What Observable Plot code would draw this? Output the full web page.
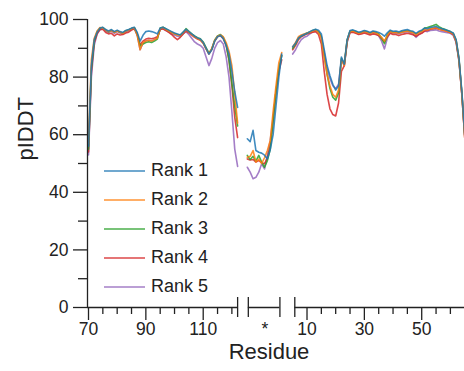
<!DOCTYPE html>
<html><head><meta charset="utf-8">
<script src="https://cdn.jsdelivr.net/npm/d3@7"></script>
<script src="https://cdn.jsdelivr.net/npm/@observablehq/plot@0.6"></script>
<style>
body{margin:0;background:#fff;font-family:"Liberation Sans",Arial,sans-serif;}
#wrap{position:relative;width:464px;height:371px;overflow:hidden;}
#legend{position:absolute;left:104px;top:156px;}
.row{display:flex;align-items:center;height:29px;font-size:18px;color:#222;}
.row svg{margin-right:6px;}
</style></head><body><div id="wrap"><div id="legend"></div></div>
<script>
const ranks = ["Rank 1", "Rank 2", "Rank 3", "Rank 4", "Rank 5"];
const colors = ["#1f77b4", "#ff7f0e", "#2ca02c", "#d62728", "#9467bd"];

// first domain: residues 70..122 ; linker "*" : 13 positions ; second domain: residues 5..65
const seg1Start = 70;
const seg3Start = 5;

const rank1Seg1 = [56,84,93,95.5,97,97.3,96.5,96,96.5,95.8,96.3,95.8,95.5,96.2,96.5,97,97.3,95.5,92.5,94.5,95.8,96,95.8,95.5,95,97,97.3,96.8,96.3,95.8,95.3,95,94.6,95.6,96.6,95.8,95,94.2,93.6,93.2,92,90,88,89.5,92.5,94,94.5,93.4,91,88,82,75,69.5];
const rank2Seg1 = [57,86,93.5,96,97.2,97,96.3,95.8,96.2,95.5,96,95.6,95.2,96,96.3,96.8,97.1,94.5,89.5,92,92.5,92.8,92.5,93,93.5,96.8,97.2,96.5,96,95.5,95,94.6,94.4,95.4,96.4,95.6,94.8,94,93.4,93,91.8,89.8,88.2,90,92.8,94.2,94.6,94,92,89,84,74,64];
const rank3Seg1 = [55,83,92.5,95.8,97,97.2,96.4,95.7,96.3,95.6,96.1,95.6,95.3,96.1,96.4,96.9,97.2,95,90.8,91.5,92,92.3,92,92.5,93.2,97,97.3,96.7,96.1,95.6,95.1,94.8,94.6,95.5,96.8,95.9,95,94.3,93.7,93.3,92.2,90.2,88.3,89.8,92.8,94.3,94.8,93.8,91.3,86,78,70,63];
const rank4Seg1 = [54,82,92,95,96.5,96.6,95.5,95,95.2,94.3,95,94.6,94.8,95.3,95.6,96.3,96.8,94.8,91.2,92.5,93.2,93.5,93.3,93.6,94,96.5,96.8,96.2,95.5,94.8,93.8,93,93.8,95,96,95.4,94.6,93.8,93.2,92.8,91.8,89.8,88,89.6,92.5,94,94.4,93.3,91,86,77,66,59];
const rank5Seg1 = [53,80,91,95,96.5,96.8,96,95.5,96,95.2,95.8,95.3,95,95.7,96,96.6,96.9,94.5,89.5,91.8,92.6,92.8,92.6,93,93.5,96.6,96.8,96.2,95.6,95,94.6,94.2,94,95,95.8,94.8,93.5,92.2,91.5,91,90,87,84,86.5,90,92,92.7,91.5,87,80,68,55,49];

const rank1Linker = [58.6,57.6,61.5,54.5,53.9,53.6,52.9,51.6,54.8,60,70,80,88];
const rank2Linker = [52.2,52.5,54.5,50.5,51.5,50,52,54.5,58,68,77,85,88.5];
const rank3Linker = [52.8,51.4,52.5,50.8,52.8,50.5,48.7,51,55,65,75,83,87.5];
const rank4Linker = [51.6,51.2,51.4,50.5,51,50.3,49.9,52,56,65,75,82,86];
const rank5Linker = [48.7,47,44.7,45.2,47,49.9,48.1,52.8,58,66,75,82,87.5];

const rank1Seg3 = [90.5,91.8,93.5,94.3,94.8,95.2,95.8,96.3,96.6,96.3,95,89.5,84,80.5,77.5,75.5,77,87,84.5,93,96.2,
  96.4,96,95.6,95.8,96.2,95.9,95.5,96,95.8,95.5,95,94.2,95.4,96.3,95.9,96,95.7,96.1,96.3,96.5,96.1,95.9,95.2,95.9,96.3,97,96.8,97.2,97.4,97.6,97.1,96.8,96.5,96.2,95.8,95.3,93,86.5,75,60];
const rank2Seg3 = [90.5,92,94,94.6,95,95.3,95.6,96,96.3,95.5,93.5,87,81,77,74,73,75.5,86,84,92.5,95.8,
  96,95.6,95.2,95.4,95.8,95.5,95.1,95.6,95.3,94.8,93.8,92.5,94.5,95.8,95.4,95.5,95.2,95.6,95.8,96,95.7,95.4,94.8,95.4,95.8,96.6,96.4,96.8,97,97.2,96.7,96.4,96.2,95.8,95.5,95,92.5,86,74,59];
const rank3Seg3 = [90,91.5,93.5,94.3,94.8,95.3,95.7,96.2,96.5,95.8,94,87.5,81,76,73,72,74.5,86.5,84.5,93,96,
  96.2,95.8,95.4,95.6,96,95.7,95.3,95.8,95.5,95,93.5,91.6,94.8,96,95.6,95.7,95.4,95.8,96,96.2,95.9,95.6,94.9,95.6,96,97,97.2,97.6,97.9,98.3,97.5,97,96.6,96.2,95.8,95.2,92.8,86.2,74.5,60];
const rank4Seg3 = [89.5,91,93,94,94.5,95,95.3,95.6,95.8,94.8,91.5,82,74,69,67,66.5,71,82,84,92.5,95.5,
  95.6,95.2,94.8,95,95.3,95,94.6,95,94.8,94.4,93.4,92.2,94,95.2,94.8,94.8,94.4,94.8,95,95.2,95,94.7,94.2,94.8,95.2,96,96.2,96.6,96.8,97,96.6,96.4,96.1,95.8,95.4,94.8,92.3,85.8,74,59];
const rank5Seg3 = [88,89.5,91.5,93,93.8,94.2,95,95.7,96,95.6,94,88.5,83,79.5,77,76,77.5,86,84,92,95.5,
  95.8,95.4,95,95.2,95.6,95.3,94.9,95.4,95.1,94.3,92.5,89.8,93.5,95.5,95.2,95.3,95,95.4,95.6,95.8,95.4,95,93.8,94.8,95.4,96,95.8,96.2,96.3,96.4,96,95.8,95.6,95.4,95.2,94.5,92,85.5,74,59.5];

// tick labels
const seg1MajorTicks = [70, 90, 110];
const seg1MinorTicks = [75, 80, 85, 95, 100, 105, 115, 120];
const seg3MajorTicks = [10, 30, 50];
const seg3MinorTicks = [15, 20, 25, 35, 40, 45, 55, 60];
const linkerLabel = "*";
const yMajorTicks = [0, 20, 40, 60, 80, 100];
const yMinorTicks = [10, 30, 50, 70, 90];

// broken-axis layout (position units)
const xDomain = [69.65, 201.12];
const seg1Axis = [69.65, 122.0];
const linkerAxis = [125.73, 136.75];
const seg3Axis = [141.94, 201.12];
const linkerOffset = 125.38;
const seg3Offset = 136.2;
const pos1 = r => r;
const pos3 = r => seg3Offset + r;

const series = [
  [ranks[0], rank1Seg1, rank1Linker, rank1Seg3],
  [ranks[1], rank2Seg1, rank2Linker, rank2Seg3],
  [ranks[2], rank3Seg1, rank3Linker, rank3Seg3],
  [ranks[3], rank4Seg1, rank4Linker, rank4Seg3],
  [ranks[4], rank5Seg1, rank5Linker, rank5Seg3]
];
const rows = [];
for (const [rank, s1, l, s3] of series.slice().reverse()) {
  s1.forEach((v, i) => rows.push({rank, key: rank + "a", u: pos1(seg1Start + i), v}));
  l.forEach((v, i) => rows.push({rank, key: rank + "b", u: linkerOffset + i, v}));
  s3.forEach((v, i) => rows.push({rank, key: rank + "c", u: pos3(seg3Start + i), v}));
}

const axisSegs = [seg1Axis, linkerAxis, seg3Axis];
const breaks = [seg1Axis[1], linkerAxis[0], linkerAxis[1], seg3Axis[0]];
const majorU = [...seg1MajorTicks.map(pos1), ...seg3MajorTicks.map(pos3)];
const minorU = [...seg1MinorTicks.map(pos1), ...seg3MinorTicks.map(pos3)];
const xLabels = [
  ...seg1MajorTicks.map(r => ({u: pos1(r), label: String(r)})),
  {u: (linkerAxis[0] + linkerAxis[1]) / 2 + 0.3, label: linkerLabel},
  ...seg3MajorTicks.map(r => ({u: pos3(r), label: String(r)}))
];

const ink = "#222";
const chart = Plot.plot({
  width: 464, height: 371,
  marginLeft: 87, marginRight: 0, marginTop: 19, marginBottom: 64,
  style: {fontFamily: "'Liberation Sans', Arial, sans-serif", fontSize: "17.5px", background: "transparent", color: ink},
  x: {domain: xDomain, axis: null},
  y: {domain: [0, 100], axis: null},
  color: {domain: ranks, range: colors},
  marks: [
    Plot.line(rows, {x: "u", y: "v", z: "key", stroke: "rank", strokeWidth: 1.6, strokeOpacity: 0.85}),
    // y axis
    Plot.ruleX([xDomain[0]], {y1: 0, y2: 100, stroke: ink, strokeWidth: 1.3}),
    Plot.ruleY(yMajorTicks, {y: d => d, x1: xDomain[0], x2: xDomain[0], insetLeft: -14, stroke: ink, strokeWidth: 1.3}),
    Plot.ruleY(yMinorTicks, {y: d => d, x1: xDomain[0], x2: xDomain[0], insetLeft: -9, stroke: ink, strokeWidth: 1.3}),
    Plot.text(yMajorTicks, {y: d => d, text: d => String(d), frameAnchor: "left", dx: -19, textAnchor: "end", fill: ink}),
    Plot.text(["pIDDT"], {frameAnchor: "left", dx: -62, dy: -3, rotate: -90, fontSize: 22, fill: ink}),
    // broken x axis
    Plot.ruleY(axisSegs, {y: 0, x1: d => d[0], x2: d => d[1], stroke: ink, strokeWidth: 1.3}),
    Plot.ruleX(breaks, {x: d => d, y1: 0, y2: 0, insetTop: -10, insetBottom: -10, stroke: ink, strokeWidth: 1.3}),
    Plot.ruleX(majorU, {x: d => d, y1: 0, y2: 0, insetBottom: -13, stroke: ink, strokeWidth: 1.3}),
    Plot.ruleX(minorU, {x: d => d, y1: 0, y2: 0, insetBottom: -7, stroke: ink, strokeWidth: 1.3}),
    Plot.text(xLabels, {x: "u", text: "label", frameAnchor: "bottom", dy: 27, fill: ink}),
    Plot.text(["Residue"], {frameAnchor: "bottom", dx: -7, dy: 51, fontSize: 22, fill: ink})
  ]
});
document.getElementById("wrap").prepend(chart);

const legend = document.getElementById("legend");
const NS = "http://www.w3.org/2000/svg";
ranks.forEach((r, i) => {
  const row = document.createElement("div");
  row.className = "row";
  const sw = document.createElementNS(NS, "svg");
  sw.setAttribute("width", "41");
  sw.setAttribute("height", "6");
  const ln = document.createElementNS(NS, "line");
  ln.setAttribute("x1", "0"); ln.setAttribute("x2", "41");
  ln.setAttribute("y1", "3"); ln.setAttribute("y2", "3");
  ln.setAttribute("stroke", colors[i]);
  ln.setAttribute("stroke-width", "1.6");
  ln.setAttribute("stroke-opacity", "0.85");
  sw.append(ln);
  const t = document.createElement("span");
  t.textContent = r;
  row.append(sw, t);
  legend.append(row);
});
</script></body></html>
